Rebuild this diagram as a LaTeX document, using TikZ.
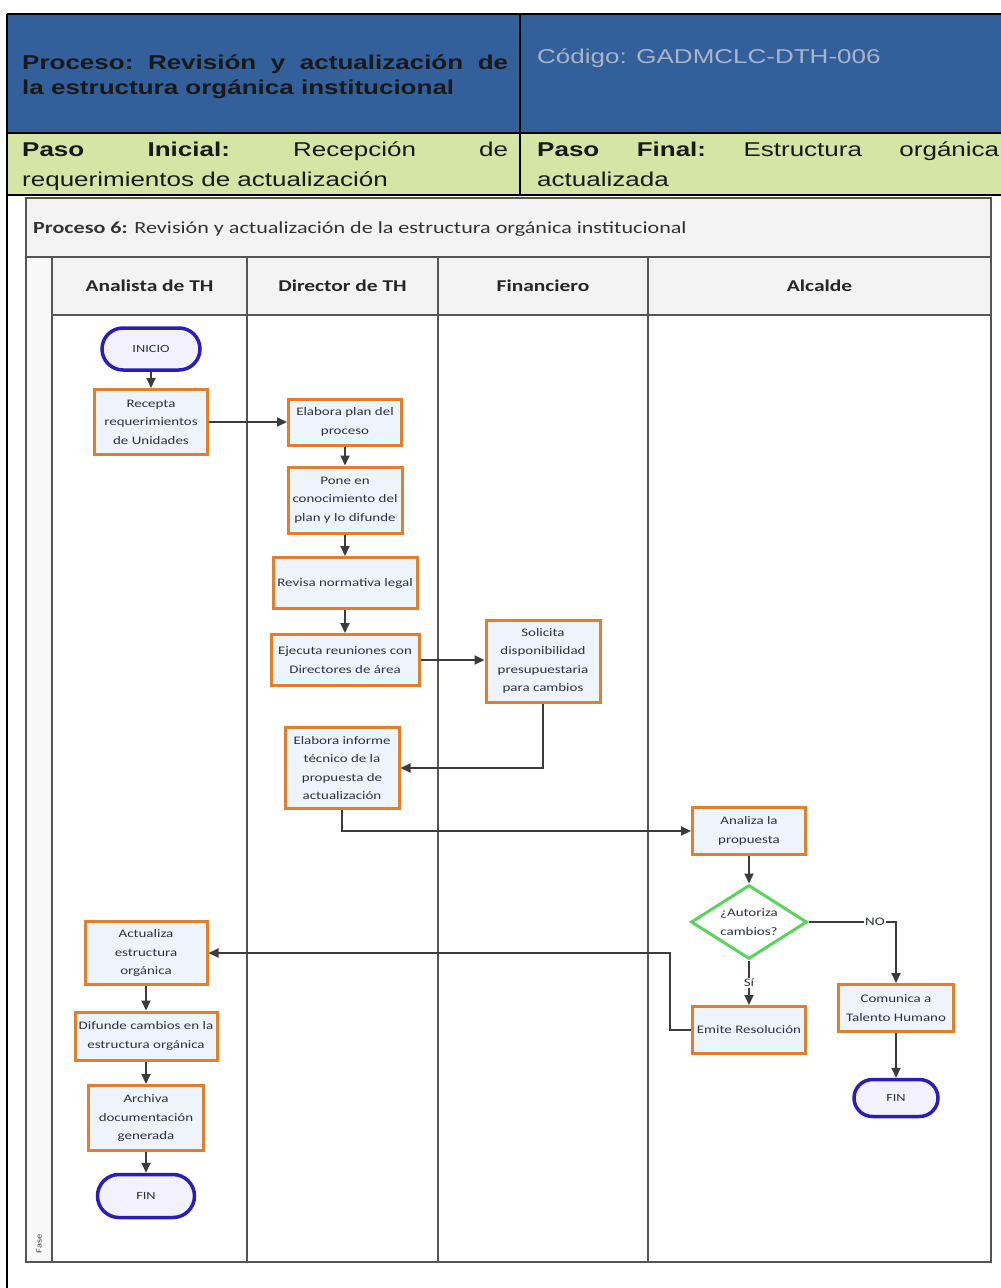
\documentclass[tikz,border=0pt]{standalone}
\usepackage{fontspec}
\setmainfont{Carlito}
\newfontfamily\hdrfont[FakeStretch=1.3]{Liberation Sans}
\newfontfamily\calfont[FakeStretch=1.3]{Carlito}
\usetikzlibrary{shapes.geometric,shapes.misc,arrows.meta}
\definecolor{hblue}{HTML}{33609B}
\definecolor{hgreen}{HTML}{D5E5A6}
\definecolor{codec}{HTML}{A9B4C8}
\definecolor{borange}{HTML}{E0802E}
\definecolor{pfill}{HTML}{EDF4FC}
\definecolor{ptext}{HTML}{2B3245}
\definecolor{tblue}{HTML}{2A1DB8}
\definecolor{tfill}{HTML}{F3F1FE}
\definecolor{dgreen}{HTML}{5CD35C}
\definecolor{arrc}{HTML}{3C3C3C}
\definecolor{lanec}{HTML}{555555}
\definecolor{rowfill}{HTML}{F3F3F3}
\begin{document}
\begin{tikzpicture}[x=1pt,y=-1pt,
  proc/.style={rectangle, draw=borange, line width=3pt, fill=pfill, text=ptext, align=center,
     font=\calfont\fontsize{11.5}{18.5}\selectfont, inner sep=2pt},
  term/.style={rounded rectangle, draw=tblue, line width=3.5pt, fill=tfill, text=ptext,
     font=\calfont\fontsize{11}{13}\selectfont, inner sep=2pt},
  decision/.style={diamond, draw=dgreen, line width=3pt, fill=white, aspect=1.6, inner sep=0pt,
     align=center, text=ptext, font=\calfont\fontsize{11.5}{18.5}\selectfont},
  arr/.style={draw=arrc, line width=2pt, -{Triangle[length=10pt,width=9pt]}},
  lane/.style={draw=lanec, line width=2.5pt},
  lbl/.style={font=\calfont\fontsize{11.5}{13}\selectfont, text=ptext, fill=white, inner sep=1pt},
  hdrtxt/.style={anchor=base west, inner sep=0pt, font=\hdrfont\fontsize{20}{23}\selectfont},
  lanehdr/.style={font=\calfont\bfseries\fontsize{16.5}{18}\selectfont, text=black!85}
]
\useasboundingbox (0,0) rectangle (1001,1288);
\fill[white] (0,0) rectangle (1001,1288);
% ---- header table
\fill[hblue] (7,14) rectangle (1001,133);
\fill[hgreen] (7,133) rectangle (1001,195);
\draw[black, line width=2pt] (7,14) -- (1001,14);
\draw[black, line width=2pt] (7,133) -- (1001,133);
\draw[black, line width=2.5pt] (7,195) -- (1001,195);
\draw[black, line width=2pt] (520,14) -- (520,195);
\draw[black, line width=2pt] (7,14) -- (7,1288);
\node[hdrtxt, text=black!90] (h1) at (22,69) {\bfseries\hbox to 486pt{Proceso:\hfill Revisión\hfill y\hfill actualización\hfill de}};
\node[hdrtxt, text=black!90] (h2) at (22,94) {\bfseries la estructura orgánica institucional};
\node[hdrtxt, text=codec] (h3) at (537,63) {Código: GADMCLC-DTH-006};
\node[hdrtxt, text=black!90] (h4) at (22,156) {\hbox to 486pt{\bfseries Paso\hfill Inicial:\hfill\mdseries Recepción\hfill de}};
\node[hdrtxt, text=black!90] (h5) at (22,186) {requerimientos de actualización};
\node[hdrtxt, text=black!90] (h6) at (537,156) {\hbox to 462pt{\bfseries Paso\hfill Final:\hfill\mdseries Estructura\hfill orgánica}};
\node[hdrtxt, text=black!90] (h7) at (537,186) {actualizada};
% ---- pool
\fill[rowfill] (26,198) rectangle (991,257);
\fill[rowfill] (52,257) rectangle (991,315);
\fill[rowfill!60] (26,257) rectangle (52,1262);
\draw[lane] (26,198) rectangle (991,1262);
\draw[lane] (26,257) -- (991,257);
\draw[lane] (52,315) -- (991,315);
\draw[lane] (52,257) -- (52,1262);
\draw[lane] (247,257) -- (247,1262);
\draw[lane] (438,257) -- (438,1262);
\draw[lane] (648,257) -- (648,1262);
\node[anchor=base west, inner sep=0pt, font=\calfont\fontsize{17}{19}\selectfont, text=black!80] (title) at (33,233)
  {\textbf{Proceso 6:} Revisión y actualización de la estructura orgánica institucional};
\node[lanehdr] (l1) at (149.5,286) {Analista de TH};
\node[lanehdr] (l2) at (342.5,286) {Director de TH};
\node[lanehdr] (l3) at (543,286) {Financiero};
\node[lanehdr] (l4) at (819.5,286) {Alcalde};
\node[rotate=90, font=\calfont\fontsize{8}{9}\selectfont, text=black!75] (fase) at (39,1244) {Fase};
% ---- nodes
\node[term, minimum width=102pt, minimum height=42pt] (ini) at (151,349) {INICIO};
\node[proc, minimum width=113pt, minimum height=65pt] (rec) at (151,422) {Recepta\\requerimientos\\de Unidades};
\node[proc, minimum width=113pt, minimum height=46pt] (plan) at (345,422) {Elabora plan del\\proceso};
\node[proc, minimum width=114pt, minimum height=66pt] (pone) at (345,500) {Pone en\\conocimiento del\\plan y lo difunde};
\node[proc, minimum width=144pt, minimum height=51pt] (rev) at (345,583) {Revisa normativa legal};
\node[proc, minimum width=148pt, minimum height=51pt] (eje) at (345,660) {Ejecuta reuniones con\\Directores de área};
\node[proc, minimum width=114pt, minimum height=82pt] (sol) at (543,661) {Solicita\\disponibilidad\\presupuestaria\\para cambios};
\node[proc, minimum width=114pt, minimum height=81pt] (inf) at (342,768) {Elabora informe\\técnico de la\\propuesta de\\actualización};
\node[proc, minimum width=113pt, minimum height=47pt] (ana) at (749,831) {Analiza la\\propuesta};
\node[decision, minimum width=116pt, minimum height=74pt] (dec) at (749,922) {¿Autoriza\\cambios?};
\node[proc, minimum width=113pt, minimum height=47pt] (emi) at (749,1030) {Emite Resolución};
\node[proc, minimum width=115pt, minimum height=47pt] (com) at (896,1008) {Comunica a\\Talento Humano};
\node[term, minimum width=88pt, minimum height=37pt] (fin2) at (896,1098) {FIN};
\node[proc, minimum width=122pt, minimum height=63pt] (act) at (146,953) {Actualiza\\estructura\\orgánica};
\node[proc, minimum width=142pt, minimum height=48pt] (dif) at (146,1036) {Difunde cambios en la\\estructura orgánica};
\node[proc, minimum width=115pt, minimum height=65pt] (arc) at (146,1118) {Archiva\\documentación\\generada};
\node[term, minimum width=101pt, minimum height=43pt] (fin1) at (146,1196) {FIN};
% ---- connectors
\draw[arr] (ini) -- (rec);
\draw[arr] (rec.east) -- (plan.west);
\draw[arr] (plan) -- (pone);
\draw[arr] (pone) -- (rev);
\draw[arr] (rev) -- (eje);
\draw[arr] (eje.east) -- (eje.east -| sol.west);
\draw[arr] (sol.south) |- (inf.east);
\draw[arr] (inf.south) |- (ana.west);
\draw[arr] (ana) -- (dec);
\draw[arr] (dec.south) -- node[lbl, pos=0.5] (si) {Sí} (emi.north);
\draw[arr] (dec.east) -| node[lbl, pos=0.38] (no) {NO} (com.north);
\draw[arr] (emi.west) -- ++(-21,0) |- (act.east);
\draw[arr] (com) -- (fin2);
\draw[arr] (act) -- (dif);
\draw[arr] (dif) -- (arc);
\draw[arr] (arc) -- (fin1);
\end{tikzpicture}
\end{document}
